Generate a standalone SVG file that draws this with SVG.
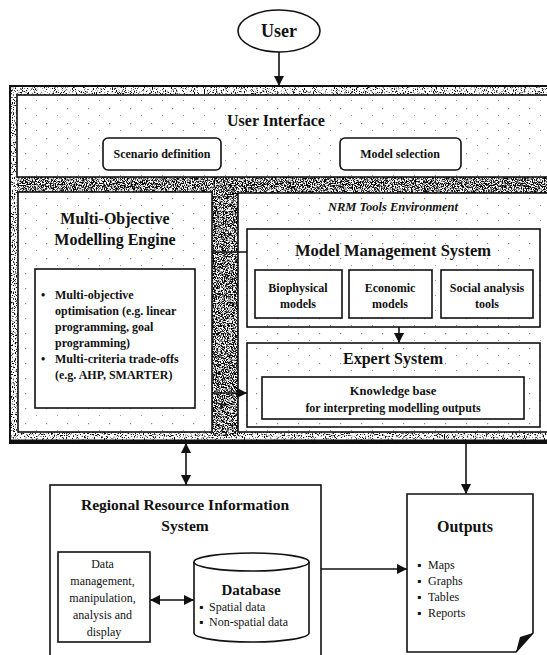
<svg xmlns="http://www.w3.org/2000/svg" width="547" height="655" viewBox="0 0 547 655">
<style>
  text { font-family: "Liberation Serif", "Times New Roman", serif; fill: #111; }
  .b { font-weight: bold; }
  .c { text-anchor: middle; }
  .box { fill: #fff; stroke: #111; stroke-width: 1.6; }
  .ln { stroke: #111; stroke-width: 1.6; fill: none; }
  .t12 { font-size: 12px; }
  .t16 { font-size: 16px; }
</style>
<defs>
  <filter id="speckHeavy" x="0" y="0" width="100%" height="100%">
    <feTurbulence type="fractalNoise" baseFrequency="0.9" numOctaves="2" seed="7" result="n"/>
    <feColorMatrix in="n" type="matrix" values="0 0 0 0 0  0 0 0 0 0  0 0 0 0 0  7 0 0 0 -3.25" result="d"/>
    <feComposite in="d" in2="SourceGraphic" operator="in"/>
  </filter>
  <filter id="speckLight" x="0" y="0" width="100%" height="100%">
    <feTurbulence type="fractalNoise" baseFrequency="0.9" numOctaves="2" seed="3" result="n"/>
    <feColorMatrix in="n" type="matrix" values="0 0 0 0 0  0 0 0 0 0  0 0 0 0 0  7 0 0 0 -3.8" result="d"/>
    <feComposite in="d" in2="SourceGraphic" operator="in"/>
  </filter>
  <pattern id="dots" width="21" height="15" patternUnits="userSpaceOnUse">
    <rect x="4" y="3" width="1.2" height="1.2" fill="#888"/>
    <rect x="15" y="10" width="1" height="1" fill="#999"/>
  </pattern>
  <marker id="ah" viewBox="0 0 10 10" refX="10" refY="5" markerWidth="11" markerHeight="10" markerUnits="userSpaceOnUse" orient="auto-start-reverse">
    <path d="M0,0 L10,5 L0,10 z" fill="#111"/>
  </marker>
</defs>

<!-- outer textured frame -->
<g id="frame">
  <rect x="10" y="86" width="545" height="357" fill="#fff" stroke="#111" stroke-width="2"/>
  <rect x="10" y="86" width="545" height="357" fill="#fff" filter="url(#speckLight)"/>
  <rect x="17" y="176" width="540" height="17" fill="#fff" filter="url(#speckHeavy)"/>
  <rect x="211" y="190" width="28" height="246" fill="#fff" filter="url(#speckHeavy)"/>
  <line x1="10" y1="441" x2="547" y2="441" stroke="#111" stroke-width="3"/>
</g>

<g id="user">
  <ellipse cx="279" cy="31" rx="41" ry="21" class="box"/>
  <text x="279" y="37" class="b c" font-size="18">User</text>
</g>

<g id="user-interface">
  <rect x="17" y="95" width="540" height="82" class="box"/>
  <rect x="17" y="95" width="540" height="82" fill="url(#dots)"/>
  <text x="276" y="126" class="b c t16">User Interface</text>
</g>
<g id="scenario-definition">
  <rect x="103" y="138" width="118" height="32" rx="5" class="box"/>
  <text x="162" y="158" class="b c t12">Scenario definition</text>
</g>
<g id="model-selection">
  <rect x="340" y="138" width="121" height="32" rx="5" class="box"/>
  <text x="400" y="158" class="b c t12">Model selection</text>
</g>

<g id="multi-objective-engine">
  <rect x="18" y="192" width="194" height="240" class="box"/>
  <rect x="18" y="192" width="194" height="240" fill="url(#dots)"/>
  <text x="115" y="224" class="b c t16">Multi-Objective</text>
  <text x="115" y="245" class="b c t16">Modelling Engine</text>
</g>
<g id="mo-methods">
  <rect x="35" y="269" width="160" height="139" class="box"/>
  <text class="b t12">
    <tspan x="41" y="299">•</tspan><tspan x="55" y="299">Multi-objective</tspan>
    <tspan x="55" y="315">optimisation (e.g. linear</tspan>
    <tspan x="55" y="331">programming, goal</tspan>
    <tspan x="55" y="347">programming)</tspan>
    <tspan x="41" y="363">•</tspan><tspan x="55" y="363">Multi-criteria trade-offs</tspan>
    <tspan x="55" y="379">(e.g. AHP, SMARTER)</tspan>
  </text>
</g>

<g id="nrm-tool-environment">
  <rect x="238" y="193" width="315" height="239" class="box"/>
  <rect x="238" y="193" width="315" height="239" fill="url(#dots)"/>
  <text x="393" y="211" class="b c" font-size="12.5" font-style="italic">NRM Tools Environment</text>
</g>
<g id="model-management-system">
  <rect x="247" y="229" width="293" height="98" class="box"/>
  <rect x="247" y="229" width="293" height="98" fill="url(#dots)"/>
  <text x="393" y="256" class="b c" font-size="16.5">Model Management System</text>
</g>
<g id="biophysical-models">
  <rect x="255" y="270" width="87" height="48" class="box"/>
  <text x="298" y="292" class="b c t12">Biophysical</text>
  <text x="298" y="308" class="b c t12">models</text>
</g>
<g id="economic-models">
  <rect x="349" y="270" width="83" height="48" class="box"/>
  <text x="390" y="292" class="b c t12">Economic</text>
  <text x="390" y="308" class="b c t12">models</text>
</g>
<g id="social-analysis-tools">
  <rect x="441" y="270" width="92" height="48" class="box"/>
  <text x="487" y="292" class="b c t12">Social analysis</text>
  <text x="487" y="308" class="b c t12">tools</text>
</g>
<g id="expert-system">
  <rect x="247" y="343" width="293" height="84" class="box"/>
  <rect x="247" y="343" width="293" height="84" fill="url(#dots)"/>
  <text x="393" y="364" class="b c t16">Expert System</text>
</g>
<g id="knowledge-base">
  <rect x="262" y="377" width="262" height="42" class="box"/>
  <text x="393" y="395" class="b c" font-size="12.5">Knowledge base</text>
  <text x="393" y="412" class="b c t12">for interpreting modelling outputs</text>
</g>

<g id="regional-resource-information-system">
  <rect x="50" y="485" width="271" height="180" class="box"/>
  <text x="185" y="510" class="b c" font-size="15.5">Regional Resource Information</text>
  <text x="185" y="531" class="b c" font-size="15.5">System</text>
</g>
<g id="data-management">
  <rect x="58" y="552" width="92" height="90" class="box"/>
  <text class="c t12">
    <tspan x="104" y="568">Data</tspan>
    <tspan x="104" y="585">management,</tspan>
    <tspan x="104" y="602">manipulation,</tspan>
    <tspan x="104" y="619">analysis and</tspan>
    <tspan x="104" y="636">display</tspan>
  </text>
</g>
<g id="database">
  <path d="M194,562 V633 A57.5,9 0 0 0 309,633 V562" class="box"/>
  <ellipse cx="251.5" cy="562" rx="57.5" ry="9" class="box"/>
  <text x="251" y="595" class="b c" font-size="15">Database</text>
  <text class="t12">
    <tspan x="199" y="611">▪</tspan><tspan x="209" y="611">Spatial data</tspan>
    <tspan x="199" y="626">▪</tspan><tspan x="209" y="626">Non-spatial data</tspan>
  </text>
</g>

<g id="outputs">
  <path d="M407,494 H533 V633 L516,652 H407 Z" class="box"/>
  <path d="M533,633 L516,652 L520,637 Z" fill="#111"/>
  <text x="465" y="532" class="b c t16">Outputs</text>
  <text class="t12">
    <tspan x="417" y="569">▪</tspan><tspan x="428" y="569">Maps</tspan>
    <tspan x="417" y="585">▪</tspan><tspan x="428" y="585">Graphs</tspan>
    <tspan x="417" y="601">▪</tspan><tspan x="428" y="601">Tables</tspan>
    <tspan x="417" y="617">▪</tspan><tspan x="428" y="617">Reports</tspan>
  </text>
</g>

<g id="connectors">
  <line x1="279" y1="52" x2="279" y2="86" class="ln" marker-end="url(#ah)"/>
  <line x1="212" y1="252" x2="247" y2="252" class="ln"/>
  <line x1="212" y1="393" x2="247" y2="393" class="ln" marker-end="url(#ah)"/>
  <line x1="399" y1="327" x2="399" y2="343" class="ln" marker-end="url(#ah)"/>
  <line x1="466" y1="442" x2="466" y2="494" class="ln" marker-end="url(#ah)"/>
  <line x1="186" y1="443" x2="186" y2="485" class="ln" marker-start="url(#ah)" marker-end="url(#ah)"/>
  <line x1="150" y1="600" x2="194" y2="600" class="ln" marker-start="url(#ah)" marker-end="url(#ah)"/>
  <line x1="321" y1="569" x2="407" y2="569" class="ln" marker-end="url(#ah)"/>
</g>
</svg>
